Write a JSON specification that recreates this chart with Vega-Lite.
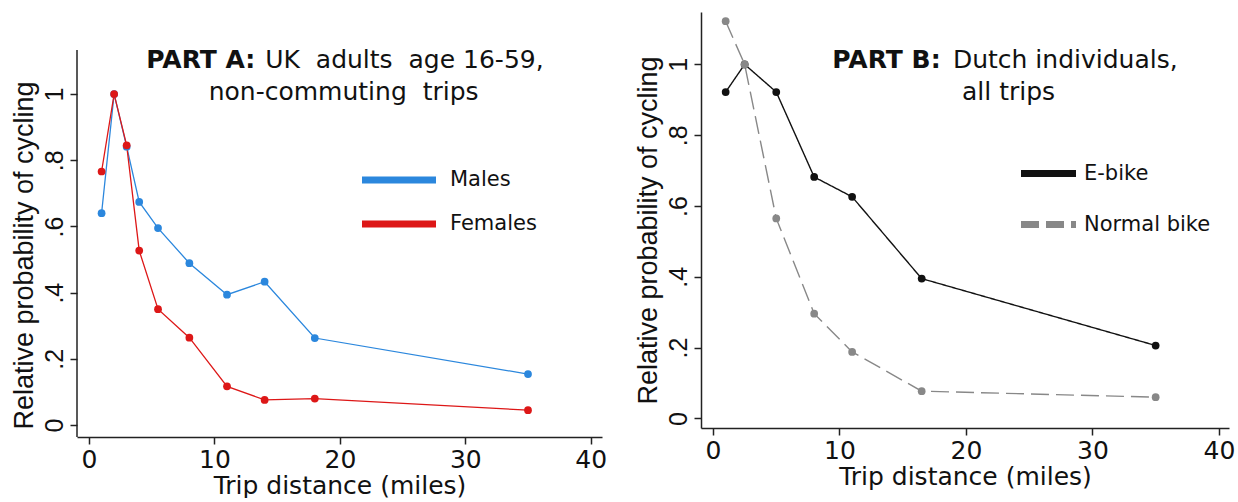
{
  "$schema": "https://vega.github.io/schema/vega-lite/v6.json",
  "background": "white",
  "padding": {"left": 10, "top": 12, "right": 0, "bottom": 0},
  "spacing": 27,
  "resolve": {"scale": {"color": "independent", "strokeDash": "independent"}},
  "config": {
    "view": {"stroke": null},
    "font": "DejaVu Sans",
    "axis": {"grid": false, "domainColor": "#222222", "domainWidth": 1.5, "tickColor": "#222222", "tickWidth": 1.5, "labelColor": "#111111", "titleColor": "#111111", "titleFontWeight": "normal"},
    "axisX": {"tickSize": 7, "labelFontSize": 25, "labelFont": "DejaVu Sans", "labelPadding": 3, "titleFont": "DejaVu Sans", "titleFontSize": 25, "titlePadding": 1, "labelFlush": false, "labelOverlap": false},
    "axisY": {"tickSize": 7, "labelFontSize": 25, "labelFont": "Liberation Sans", "labelAngle": -90, "labelPadding": 3, "titleFont": "Liberation Sans", "titleFontSize": 27, "titlePadding": 4, "labelOverlap": false},
    "legend": {"orient": "none", "title": null, "symbolType": "M-2,0H2", "symbolStrokeWidth": 7, "labelFontSize": 21, "labelFont": "DejaVu Sans", "labelColor": "#111111", "padding": 0}
  },
  "datasets": {
    "uk": [
      {"distance": 1, "sex": "Males", "rel": 0.640},
      {"distance": 2, "sex": "Males", "rel": 1.0},
      {"distance": 3, "sex": "Males", "rel": 0.841},
      {"distance": 4, "sex": "Males", "rel": 0.674},
      {"distance": 5.5, "sex": "Males", "rel": 0.595},
      {"distance": 8, "sex": "Males", "rel": 0.489},
      {"distance": 11, "sex": "Males", "rel": 0.394},
      {"distance": 14, "sex": "Males", "rel": 0.433},
      {"distance": 18, "sex": "Males", "rel": 0.263},
      {"distance": 35, "sex": "Males", "rel": 0.154},
      {"distance": 1, "sex": "Females", "rel": 0.766},
      {"distance": 2, "sex": "Females", "rel": 1.0},
      {"distance": 3, "sex": "Females", "rel": 0.845},
      {"distance": 4, "sex": "Females", "rel": 0.527},
      {"distance": 5.5, "sex": "Females", "rel": 0.350},
      {"distance": 8, "sex": "Females", "rel": 0.264},
      {"distance": 11, "sex": "Females", "rel": 0.117},
      {"distance": 14, "sex": "Females", "rel": 0.076},
      {"distance": 18, "sex": "Females", "rel": 0.080},
      {"distance": 35, "sex": "Females", "rel": 0.045}
    ],
    "nl": [
      {"distance": 1, "bike": "E-bike", "rel": 0.922},
      {"distance": 2.5, "bike": "E-bike", "rel": 1.0},
      {"distance": 5, "bike": "E-bike", "rel": 0.922},
      {"distance": 8, "bike": "E-bike", "rel": 0.682},
      {"distance": 11, "bike": "E-bike", "rel": 0.626},
      {"distance": 16.5, "bike": "E-bike", "rel": 0.395},
      {"distance": 35, "bike": "E-bike", "rel": 0.206},
      {"distance": 1, "bike": "Normal bike", "rel": 1.122},
      {"distance": 2.5, "bike": "Normal bike", "rel": 1.0},
      {"distance": 5, "bike": "Normal bike", "rel": 0.565},
      {"distance": 8, "bike": "Normal bike", "rel": 0.296},
      {"distance": 11, "bike": "Normal bike", "rel": 0.188},
      {"distance": 16.5, "bike": "Normal bike", "rel": 0.077},
      {"distance": 35, "bike": "Normal bike", "rel": 0.060}
    ]
  },
  "hconcat": [
    {
      "width": 525,
      "height": 425,
      "layer": [
        {
          "data": {"name": "uk"},
          "mark": {"type": "line", "strokeWidth": 1.3, "point": {"filled": true, "size": 60, "opacity": 1}},
          "encoding": {
            "x": {"field": "distance", "type": "quantitative", "scale": {"domain": [-0.96, 40.9], "nice": false, "zero": false}, "axis": {"values": [0, 10, 20, 30, 40], "title": "Trip distance (miles)"}},
            "y": {"field": "rel", "type": "quantitative", "scale": {"domain": [-0.036, 1.2478], "nice": false, "zero": false}, "axis": {"values": [0, 0.2, 0.4, 0.6, 0.8, 1], "domain": false, "labelExpr": "replace(format(datum.value, '.1~f'), '0.', '.')", "title": "Relative probability of cycling", "titleY": 243}},
            "color": {"field": "sex", "type": "nominal", "scale": {"domain": ["Males", "Females"], "range": ["#2b87dd", "#dd1717"]}, "legend": {"legendX": 300, "legendY": 146, "symbolSize": 1369, "rowPadding": 8, "labelOffset": 29}}
          }
        },
        {
          "data": {"values": [{}]},
          "mark": {"type": "rule", "color": "#222222", "strokeWidth": 1.5},
          "encoding": {"x": {"datum": -0.96}, "y": {"datum": -0.036}, "y2": {"datum": 1.133}}
        },
        {
          "data": {"values": [{}]},
          "mark": {"type": "text", "font": "DejaVu Sans", "fontWeight": "bold", "fontSize": 25, "align": "right", "baseline": "alphabetic", "text": "PART A:", "color": "#111111"},
          "encoding": {"x": {"datum": 13.26}, "y": {"datum": 1.0785}}
        },
        {
          "data": {"values": [{}]},
          "mark": {"type": "text", "font": "DejaVu Sans", "fontSize": 25, "align": "left", "baseline": "alphabetic", "text": "UK\u00a0\u00a0adults\u00a0\u00a0age 16-59,", "color": "#111111"},
          "encoding": {"x": {"datum": 14.05}, "y": {"datum": 1.0785}}
        },
        {
          "data": {"values": [{}]},
          "mark": {"type": "text", "font": "DejaVu Sans", "fontSize": 25, "align": "center", "baseline": "alphabetic", "text": "non-commuting\u00a0\u00a0trips", "color": "#111111"},
          "encoding": {"x": {"datum": 20.3}, "y": {"datum": 0.982}}
        }
      ]
    },
    {
      "width": 528,
      "height": 416,
      "layer": [
        {
          "data": {"name": "nl"},
          "mark": {"type": "line", "strokeWidth": 1.4, "point": {"filled": true, "size": 60, "opacity": 1}},
          "encoding": {
            "x": {"field": "distance", "type": "quantitative", "scale": {"domain": [-0.95, 40.8], "nice": false, "zero": false}, "axis": {"values": [0, 10, 20, 30, 40], "title": "Trip distance (miles)"}},
            "y": {"field": "rel", "type": "quantitative", "scale": {"domain": [-0.027, 1.148], "nice": false, "zero": false}, "axis": {"values": [0, 0.2, 0.4, 0.6, 0.8, 1], "labelExpr": "replace(format(datum.value, '.1~f'), '0.', '.')", "title": "Relative probability of cycling", "titleY": 218}},
            "color": {"field": "bike", "type": "nominal", "scale": {"domain": ["E-bike", "Normal bike"], "range": ["#111111", "#888888"]}, "legend": {"legendX": 330, "legendY": 144, "symbolSize": 756, "rowPadding": 19, "labelOffset": 18}},
            "strokeDash": {"field": "bike", "type": "nominal", "scale": {"domain": ["E-bike", "Normal bike"], "range": [[1, 0], [18, 7]]}, "legend": {"legendX": 330, "legendY": 144, "symbolSize": 756, "rowPadding": 19, "labelOffset": 18}}
          }
        },
        {
          "data": {"values": [{}]},
          "mark": {"type": "text", "font": "DejaVu Sans", "fontWeight": "bold", "fontSize": 25, "align": "right", "baseline": "alphabetic", "text": "PART B:", "color": "#111111"},
          "encoding": {"x": {"datum": 18.0}, "y": {"datum": 0.989}}
        },
        {
          "data": {"values": [{}]},
          "mark": {"type": "text", "font": "DejaVu Sans", "fontSize": 25, "align": "left", "baseline": "alphabetic", "text": "Dutch individuals,", "color": "#111111"},
          "encoding": {"x": {"datum": 18.97}, "y": {"datum": 0.989}}
        },
        {
          "data": {"values": [{}]},
          "mark": {"type": "text", "font": "DejaVu Sans", "fontSize": 25, "align": "center", "baseline": "alphabetic", "text": "all trips", "color": "#111111"},
          "encoding": {"x": {"datum": 23.37}, "y": {"datum": 0.9}}
        }
      ]
    }
  ]
}
